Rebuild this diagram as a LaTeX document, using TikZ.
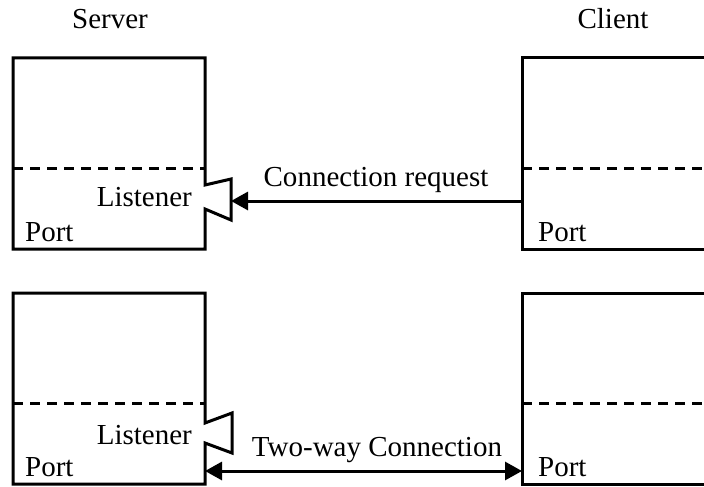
\documentclass[tikz,border=0pt]{standalone}
\usepackage{fontspec}
\setmainfont{Liberation Serif}
\usetikzlibrary{arrows.meta}
\begin{document}
\begin{tikzpicture}[x=1pt,y=-1pt,
  boxline/.style={line width=3pt,line join=miter},
  sep/.style={line width=3pt,dash pattern=on 10pt off 7pt},
  conn/.style={line width=3pt},
  lbl/.style={inner sep=0pt,font=\fontsize{29}{34}\selectfont},
  tip/.style={Triangle[length=17pt,width=18pt]}]
\useasboundingbox (0,0) rectangle (704,487);
% titles
\node[lbl] (server) at (110,19) {Server};
\node[lbl] (client) at (613,19) {Client};
% ---------- top row ----------
\coordinate (s1tl) at (13,58);
\coordinate (s1tr) at (205,58);
\coordinate (s1n1) at (205,185);
\coordinate (s1n2) at (231,179);
\coordinate (s1n3) at (231,220);
\coordinate (s1n4) at (205,209);
\coordinate (s1br) at (205,249);
\coordinate (s1bl) at (13,249);
\draw[boxline] (s1tl) -- (s1tr) -- (s1n1) -- (s1n2) -- (s1n3) -- (s1n4) -- (s1br) -- (s1bl) -- cycle;
\draw[sep] (13,168) -- (205,168);
\node[lbl,anchor=base east] (lis1) at (192,206) {Listener};
\node[lbl,anchor=base west] (port1) at (25,241) {Port};
\coordinate (c1tl) at (522,58);
\coordinate (c1bl) at (522,249);
\draw[boxline] (720,58) -- (c1tl) -- (c1bl) -- (720,249);
\draw[sep] (522,168) -- (704,168);
\node[lbl,anchor=base west] (port2) at (538,241) {Port};
\coordinate (req1) at (522,201);
\coordinate (req2) at (231,201);
\draw[conn,-{Triangle[length=17pt,width=18pt]}] (req1) -- (req2);
\node[lbl,anchor=base] (reqlbl) at (376,186) {Connection request};
% ---------- bottom row ----------
\coordinate (s2tl) at (13,293);
\coordinate (s2tr) at (205,293);
\coordinate (s2n1) at (205,423);
\coordinate (s2n2) at (232,413);
\coordinate (s2n3) at (232,453);
\coordinate (s2n4) at (205,443);
\coordinate (s2br) at (205,484);
\coordinate (s2bl) at (13,484);
\draw[boxline] (s2tl) -- (s2tr) -- (s2n1) -- (s2n2) -- (s2n3) -- (s2n4) -- (s2br) -- (s2bl) -- cycle;
\draw[sep] (13,403) -- (205,403);
\node[lbl,anchor=base east] (lis2) at (192,444) {Listener};
\node[lbl,anchor=base west] (port3) at (25,476) {Port};
\coordinate (c2tl) at (522,293);
\coordinate (c2bl) at (522,484);
\draw[boxline] (720,293) -- (c2tl) -- (c2bl) -- (720,484);
\draw[sep] (522,403) -- (704,403);
\node[lbl,anchor=base west] (port4) at (538,476) {Port};
\coordinate (tw1) at (205,471);
\coordinate (tw2) at (522,471);
\draw[conn,{Triangle[length=17pt,width=18pt]}-{Triangle[length=17pt,width=18pt]}] (tw1) -- (tw2);
\node[lbl,anchor=base] (twlbl) at (377,456) {Two-way Connection};
\end{tikzpicture}
\end{document}
